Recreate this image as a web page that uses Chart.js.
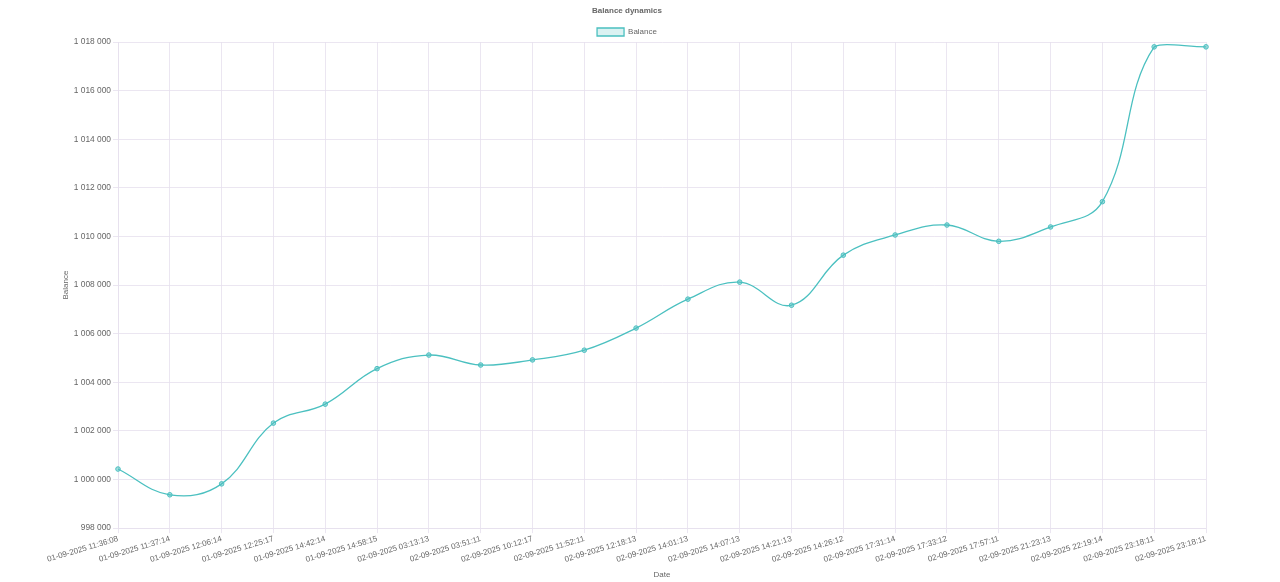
<!DOCTYPE html>
<html>
<head>
<meta charset="utf-8">
<title>Balance dynamics</title>
<script src="https://cdn.jsdelivr.net/npm/chart.js@4"></script>
<style>
  html, body { margin: 0; padding: 0; background: #fff; }
  #wrap { width: 1280px; height: 582px; position: relative; }
</style>
</head>
<body>
<div id="wrap"><canvas id="balanceChart"></canvas></div>
<script>
// timestamps of each balance snapshot
const dates = [
  "01-09-2025 11:36:08", "01-09-2025 11:37:14", "01-09-2025 12:06:14", "01-09-2025 12:25:17",
  "01-09-2025 14:42:14", "01-09-2025 14:58:15", "02-09-2025 03:13:13", "02-09-2025 03:51:11",
  "02-09-2025 10:12:17", "02-09-2025 11:52:11", "02-09-2025 12:18:13", "02-09-2025 14:01:13",
  "02-09-2025 14:07:13", "02-09-2025 14:21:13", "02-09-2025 14:26:12", "02-09-2025 17:31:14",
  "02-09-2025 17:33:12", "02-09-2025 17:57:11", "02-09-2025 21:23:13", "02-09-2025 22:19:14",
  "02-09-2025 23:18:11", "02-09-2025 23:18:11"
];

const balance = [
  1000430, 999370, 999820, 1002320, 1003100, 1004560, 1005120, 1004710,
  1004920, 1005320, 1006230, 1007420, 1008120, 1007170, 1009230, 1010060,
  1010470, 1009800, 1010390, 1011430, 1017800, 1017800
];

const yMin = 998000;
const yMax = 1018000;
const yStep = 2000;

const fmt = (v) => String(Math.round(v)).replace(/\B(?=(\d{3})+(?!\d))/g, " ");

const font = { family: "'Liberation Sans', Arial, Helvetica, sans-serif", size: 8 };
const gridColor = "rgba(230, 224, 238, 0.8)";

// legend adds a fixed 10px below itself, trim part of it so the plot starts higher
const tightLegend = {
  id: "tightLegend",
  beforeLayout(chart) {
    const legend = chart.legend;
    if (legend && !legend._trimmed) {
      const fit = legend.fit.bind(legend);
      legend.fit = function () {
        fit();
        this.height -= 4;
      };
      legend._trimmed = true;
    }
  }
};

const ctx = document.getElementById("balanceChart").getContext("2d");
new Chart(ctx, {
  type: "line",
  data: {
    labels: dates,
    datasets: [{
      label: "Balance",
      data: balance,
      borderColor: "rgb(75, 192, 192)",
      backgroundColor: "rgba(75, 192, 192, 0.2)",
      borderWidth: 1.3,
      pointRadius: 2.3,
      pointBorderWidth: 1,
      pointBackgroundColor: "rgba(75, 192, 192, 0.5)",
      tension: 0.4,
      fill: false
    }]
  },
  plugins: [tightLegend],
  options: {
    responsive: true,
    maintainAspectRatio: false,
    animation: false,
    layout: { padding: { left: 48, right: 74, top: 0, bottom: 2 } },
    plugins: {
      title: {
        display: true,
        text: "Balance dynamics",
        color: "#666",
        font: { ...font, weight: "bold" },
        padding: { top: 6, bottom: 6 }
      },
      legend: {
        labels: {
          color: "#666",
          font: font,
          boxWidth: 27,
          boxHeight: 8,
          padding: 6.4
        }
      },
      tooltip: { enabled: false }
    },
    scales: {
      x: {
        grid: { color: gridColor, tickLength: 5 },
        border: { color: gridColor },
        ticks: {
          color: "#666",
          font: font,
          autoSkip: false,
          minRotation: 16.5,
          maxRotation: 16.5,
          padding: 1
        },
        title: { display: true, text: "Date", color: "#666", font: font, padding: { top: 5, bottom: 0 } }
      },
      y: {
        min: yMin,
        max: yMax,
        grid: { color: gridColor, tickLength: 5 },
        border: { color: gridColor },
        ticks: {
          stepSize: yStep,
          color: "#666",
          font: { ...font, size: 8.4 },
          padding: 2,
          callback: (v) => fmt(v)
        },
        title: { display: true, text: "Balance", color: "#666", font: font, padding: { top: 13, bottom: 2 } },
        afterFit: (scale) => { scale.width = 70; }
      }
    }
  }
});
</script>
</body>
</html>
